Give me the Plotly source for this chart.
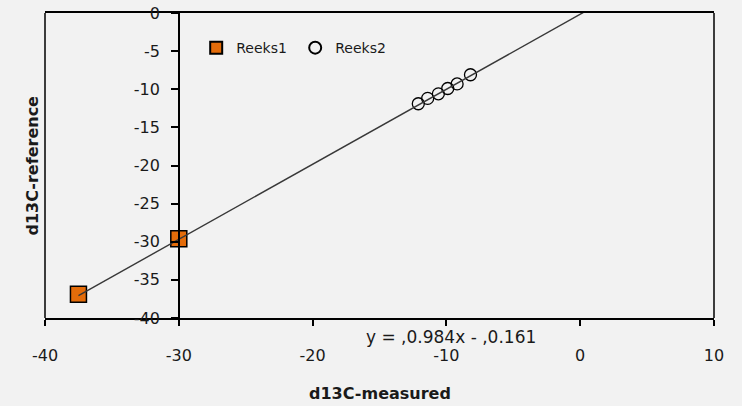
import plotly.graph_objects as go

# Data
reeks1_x = [-37.5, -30.0]
reeks1_y = [-36.9, -29.6]
reeks2_x = [-12.1, -11.4, -10.6, -9.9, -9.2, -8.2]
reeks2_y = [-11.9, -11.2, -10.6, -9.9, -9.3, -8.1]
slope = 0.984
intercept = -0.161
x_ticks = [-40, -30, -20, -10, 0, 10]
y_ticks = [0, -5, -10, -15, -20, -25, -30, -35, -40]

FONT = "DejaVu Sans"
TXT = "#1a1a1a"
BG = "#f2f2f2"

trend_x = [min(reeks1_x + reeks2_x), 10]
trend_y = [slope * v + intercept for v in trend_x]

fig = go.Figure()
fig.add_trace(go.Scatter(
    x=reeks1_x, y=reeks1_y, mode="markers", name="Reeks1",
    marker=dict(symbol="square", size=16, color="#E46C0A",
                line=dict(color="#000000", width=1.5)),
))
fig.add_trace(go.Scatter(
    x=reeks2_x, y=reeks2_y, mode="markers", name="Reeks2",
    marker=dict(symbol="circle-open", size=12, color="#000000",
                line=dict(color="#000000", width=1.3)),
))
fig.add_trace(go.Scatter(
    x=trend_x, y=trend_y, mode="lines", showlegend=False,
    line=dict(color="#383838", width=1.4), hoverinfo="skip",
))

fig.update_layout(
    width=742, height=406,
    margin=dict(l=45, r=28, t=13, b=87.5),
    paper_bgcolor=BG, plot_bgcolor=BG,
    font=dict(family=FONT, size=16, color=TXT),
    showlegend=True,
    legend=dict(orientation="h", x=0.226, y=0.885, xanchor="left", yanchor="middle",
                bgcolor="rgba(0,0,0,0)", font=dict(size=14, color=TXT),
                itemsizing="constant", itemwidth=30, tracegroupgap=0,
                entrywidth=54, entrywidthmode="pixels"),
    xaxis=dict(range=[-40, 10], tickvals=x_ticks, ticktext=[str(v) for v in x_ticks],
               showgrid=False, zeroline=False, automargin=False,
               showline=True, linecolor="#000000", linewidth=1.5, mirror=True,
               ticks="outside", ticklen=6, tickcolor="#000000", tickwidth=1.5,
               ticklabelstandoff=16, tickfont=dict(size=16, color=TXT)),
    yaxis=dict(range=[-40, 0], tickvals=y_ticks, ticktext=[str(v) for v in y_ticks],
               showgrid=False, zeroline=False, automargin=False,
               anchor="free", position=0.2,
               showline=True, linecolor="#000000", linewidth=1.5,
               ticks="outside", ticklen=7, tickcolor="#000000", tickwidth=1.5,
               ticklabelstandoff=8, tickfont=dict(size=16, color=TXT)),
    shapes=[
        dict(type="line", xref="paper", yref="paper", x0=0, x1=0, y0=0, y1=1,
             line=dict(color="#000000", width=1.5)),
        dict(type="line", xref="paper", yref="paper", x0=1, x1=1, y0=0, y1=1,
             line=dict(color="#000000", width=1.5)),
    ],
    annotations=[
        dict(text="<b>d13C-reference</b>", xref="paper", yref="paper",
             x=-0.0194, y=0.5, xanchor="center", yanchor="middle", textangle=-90,
             showarrow=False, font=dict(size=16, color=TXT)),
        dict(text="<b>d13C-measured</b>", xref="paper", yref="paper",
             x=0.5, y=-0.247, xanchor="center", yanchor="middle",
             showarrow=False, font=dict(size=16, color=TXT)),
        dict(text="y = ,0.984x - ,0.161", xref="paper", yref="paper",
             x=0.607, y=-0.062, xanchor="center", yanchor="middle",
             showarrow=False, font=dict(size=17, color=TXT)),
    ],
)

fig.write_html("out.html")
